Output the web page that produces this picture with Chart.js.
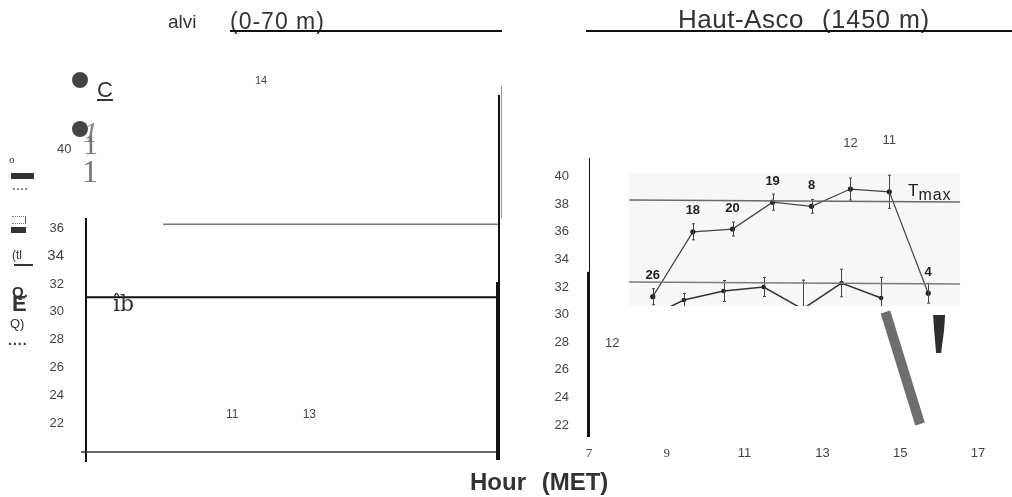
<!DOCTYPE html>
<html><head><meta charset="utf-8">
<script src="https://cdn.jsdelivr.net/npm/chart.js@4.4.0/dist/chart.umd.min.js"></script>
<style>
html,body{margin:0;padding:0;background:#fff;}
body{width:1012px;height:497px;position:relative;overflow:hidden;font-family:"Liberation Sans",Arial,sans-serif;color:#333;}
.t{position:absolute;white-space:nowrap;line-height:1;}
.ln{position:absolute;height:2px;background:#111;}
#c1{position:absolute;left:0;top:0;}
#c2{position:absolute;left:500px;top:0;}
</style></head><body>
<canvas id="c1" width="520" height="497"></canvas>
<canvas id="c2" width="512" height="497"></canvas>

<div class="t" style="left:168px;top:12px;font-size:19px;">alvi</div>
<div class="t" style="left:230px;top:10px;font-size:23px;letter-spacing:1px;">(0-70 m)</div>
<div class="ln" style="left:230px;top:30px;width:272px;"></div>
<div class="t" style="left:678px;top:6px;font-size:26px;letter-spacing:0.5px;">Haut-Asco</div>
<div class="t" style="left:822px;top:7px;font-size:25px;letter-spacing:1px;">(1450 m)</div>
<div class="ln" style="left:586px;top:30px;width:426px;"></div>

<div style="position:absolute;left:72px;top:72px;width:16px;height:16px;border-radius:50%;background:#444;"></div>
<div style="position:absolute;left:72px;top:121px;width:16px;height:16px;border-radius:50%;background:#444;"></div>
<div class="t" style="left:97px;top:79px;font-size:22px;text-decoration:underline;text-decoration-thickness:2px;text-underline-offset:2px;">C</div>
<div class="t" style="left:83px;top:115px;font:italic 30px 'Liberation Serif';color:#888;">1</div>
<div class="t" style="left:83px;top:127px;font:30px 'Liberation Serif';color:#777;">1</div>
<div class="t" style="left:82px;top:153px;font:32px 'Liberation Serif';color:#777;">1</div>
<div class="t" style="left:57px;top:142px;font-size:13px;color:#444;">40</div>
<div class="t" style="left:255px;top:75px;font-size:11px;color:#444;">14</div>

<div class="t" style="left:9px;top:153px;font:11px 'Liberation Serif';color:#333;">o</div>
<div style="position:absolute;left:11px;top:173px;width:23px;height:6px;background:#333;"></div>
<div style="position:absolute;left:13px;top:188px;width:14px;border-top:2px dotted #888;"></div>
<div style="position:absolute;left:12px;top:216px;width:13px;height:6px;border-top:1px dotted #777;border-bottom:1px dotted #777;border-right:1px solid #555;"></div>
<div style="position:absolute;left:11px;top:227px;width:15px;height:6px;background:#333;"></div>
<div class="t" style="left:12px;top:249px;font-size:12px;color:#333;">(tl</div>
<div style="position:absolute;left:14px;top:264px;width:19px;height:1.5px;background:#333;"></div>
<div class="t" style="left:12px;top:284px;font-size:15px;font-weight:bold;color:#333;">Q.</div>
<div class="t" style="left:12px;top:293px;font-size:22px;font-weight:bold;color:#333;">E</div>
<div class="t" style="left:10px;top:317px;font-size:13px;color:#333;">Q)</div>
<div class="t" style="left:8px;top:333px;font-size:14px;font-weight:bold;letter-spacing:1px;color:#333;">....</div>
<div class="t" style="left:113px;top:291px;font:22px 'DejaVu Serif';color:#333;">îb</div>

<div class="t" style="left:605px;top:336px;font-size:13px;color:#444;">12</div>
<div class="t" style="left:908px;top:182px;font-size:17px;color:#222;">T<span style="position:relative;top:4px;font-size:16px;letter-spacing:1px;">max</span></div>
<div class="t" style="left:470px;top:470px;font-size:24px;font-weight:bold;word-spacing:9px;color:#333;">Hour (MET)</div>

<script>
// ---- data ----
const hourTicksLeft = [11, 13];
const hourTicksRight = [7, 9, 11, 13, 15, 17];
const tempTicksLeft = [22, 24, 26, 28, 30, 32, 34, 36];
const tempTicksRight = [22, 24, 26, 28, 30, 32, 34, 36, 38, 40];

const tmaxHours  = [8.64, 9.67, 10.69, 11.72, 12.72, 13.72, 14.72, 15.72];
const tmaxValues = [31.3, 36.0, 36.2, 38.15, 37.85, 39.1, 38.9, 31.55];
const tmaxErrors = [0.58, 0.58, 0.5, 0.58, 0.5, 0.8, 1.2, 0.72];
const tmaxCounts = ["26", "18", "20", "19", "8", "12", "11", "4"];

const lowHours  = [8.6, 9.44, 10.46, 11.49, 12.49, 13.49, 14.51];
const lowValues = [29.9, 31.06, 31.71, 32.0, 30.4, 32.29, 31.2];
const lowErrors = [0.5, 0.47, 0.76, 0.69, 2.1, 1.0, 1.5];

const refHours = [8.03, 16.54];
const tmaxRefValues = [38.3, 38.16];
const lowRefValues = [32.36, 32.22];

const leftGrayHours = [9.2, 17.9];
const leftGrayValues = [36.3, 36.3];
const leftBlackHours = [7.2, 17.9];
const leftBlackValues = [31.05, 31.05];

const stripeHours = [14.62, 15.51];
const stripeValues = [30.19, 22.07];
const wedgeHours = [15.846, 16.154, 16.128, 16.051, 15.923, 15.872];
const wedgeValues = [29.97, 29.97, 28.88, 27.22, 27.22, 28.88];

// ---- helpers ----
const FONT = "'Liberation Sans', Arial, sans-serif";
const zip = (xs, ys) => xs.map((x, i) => ({x: x, y: ys[i]}));
const SCAN = {x0: 8.03, x1: 16.54, y0: 30.62, y1: 40.26};

const leftDecor = {
  id: 'leftDecor',
  afterDraw(chart) {
    const {ctx, chartArea: a, scales: {x}} = chart;
    ctx.save();
    ctx.lineCap = 'butt';
    // left axis
    ctx.strokeStyle = '#111'; ctx.lineWidth = 2;
    ctx.beginPath(); ctx.moveTo(a.left, a.top); ctx.lineTo(a.left, a.bottom + 10); ctx.stroke();
    // bottom axis
    ctx.strokeStyle = '#333'; ctx.lineWidth = 1.5;
    ctx.beginPath(); ctx.moveTo(a.left - 5, a.bottom); ctx.lineTo(a.right, a.bottom); ctx.stroke();
    // right frame
    ctx.strokeStyle = '#999'; ctx.lineWidth = 1;
    ctx.beginPath(); ctx.moveTo(a.right + 3.5, 86); ctx.lineTo(a.right + 3.5, a.top); ctx.stroke();
    ctx.strokeStyle = '#111'; ctx.lineWidth = 2;
    ctx.beginPath(); ctx.moveTo(a.right + 1, 95); ctx.lineTo(a.right + 1, a.bottom + 8); ctx.stroke();
    ctx.lineWidth = 4;
    ctx.beginPath(); ctx.moveTo(a.right, 282); ctx.lineTo(a.right, a.bottom + 8); ctx.stroke();
    // hour tick labels, printed inside the frame above the axis
    ctx.fillStyle = '#444';
    ctx.font = "12px " + FONT;
    ctx.textAlign = 'center'; ctx.textBaseline = 'middle';
    hourTicksLeft.forEach(h => ctx.fillText(String(h), x.getPixelForValue(h), a.bottom - 37));
    ctx.restore();
  }
};

const rightDecor = {
  id: 'rightDecor',
  beforeDatasetsDraw(chart) {
    const {ctx, chartArea: a, scales: {x, y}} = chart;
    ctx.save();
    const px0 = x.getPixelForValue(SCAN.x0), px1 = x.getPixelForValue(SCAN.x1);
    const py0 = y.getPixelForValue(SCAN.y1), py1 = y.getPixelForValue(SCAN.y0);
    ctx.fillStyle = '#f7f7f7';
    ctx.fillRect(px0, py0, px1 - px0, py1 - py0);
    // y axis line: thin upper part, thick lower part
    const split = y.getPixelForValue(33.1);
    ctx.strokeStyle = '#111';
    ctx.lineWidth = 1;
    ctx.beginPath(); ctx.moveTo(a.left + 0.5, a.top); ctx.lineTo(a.left + 0.5, split); ctx.stroke();
    ctx.lineWidth = 3;
    ctx.beginPath(); ctx.moveTo(a.left - 0.5, split); ctx.lineTo(a.left - 0.5, a.bottom); ctx.stroke();
    ctx.restore();
  },
  beforeDatasetDraw(chart, args) {
    const ds = chart.data.datasets[args.index];
    if (ds.clipToScan) {
      const {ctx, scales: {x, y}} = chart;
      const px0 = x.getPixelForValue(SCAN.x0), px1 = x.getPixelForValue(SCAN.x1);
      const py0 = y.getPixelForValue(SCAN.y1), py1 = y.getPixelForValue(SCAN.y0);
      ctx.save();
      ctx.beginPath(); ctx.rect(px0, py0, px1 - px0, py1 - py0); ctx.clip();
    }
  },
  afterDatasetDraw(chart, args) {
    const ds = chart.data.datasets[args.index];
    const {ctx, scales: {x, y}} = chart;
    if (ds.errors) {
      ctx.save();
      ctx.strokeStyle = '#444'; ctx.lineWidth = 1;
      ds.data.forEach((p, i) => {
        const e = ds.errors[i];
        const px = Math.round(x.getPixelForValue(p.x)) + 0.5;
        const t = y.getPixelForValue(p.y + e), b = y.getPixelForValue(p.y - e);
        ctx.beginPath();
        ctx.moveTo(px, t); ctx.lineTo(px, b);
        ctx.moveTo(px - 1.5, t); ctx.lineTo(px + 1.5, t);
        ctx.moveTo(px - 1.5, b); ctx.lineTo(px + 1.5, b);
        ctx.stroke();
      });
      ctx.restore();
    }
    if (ds.clipToScan) ctx.restore();
  },
  afterDatasetsDraw(chart) {
    const {ctx, scales: {x, y}} = chart;
    ctx.save();
    // wedge artefact
    ctx.fillStyle = '#2e2e2e';
    ctx.beginPath();
    wedgeHours.forEach((h, i) => {
      const px = x.getPixelForValue(h), py = y.getPixelForValue(wedgeValues[i]);
      if (i === 0) ctx.moveTo(px, py); else ctx.lineTo(px, py);
    });
    ctx.closePath(); ctx.fill();
    // point labels (sample sizes)
    const far = {5: -46, 6: -51};
    ctx.textAlign = 'center'; ctx.textBaseline = 'middle';
    tmaxHours.forEach((h, i) => {
      const px = x.getPixelForValue(h), py = y.getPixelForValue(tmaxValues[i]);
      if (far[i] !== undefined) {
        ctx.font = "13px " + FONT; ctx.fillStyle = '#444';
        ctx.fillText(tmaxCounts[i], px, py + far[i]);
      } else {
        ctx.font = "bold 13px " + FONT; ctx.fillStyle = '#222';
        ctx.fillText(tmaxCounts[i], px, py - 21);
      }
    });
    ctx.restore();
  }
};

Chart.defaults.font.family = FONT;

new Chart(document.getElementById('c1'), {
  type: 'line',
  data: {
    datasets: [
      {data: zip(leftGrayHours, leftGrayValues), borderColor: '#777', borderWidth: 1.5, pointRadius: 0},
      {data: zip(leftBlackHours, leftBlackValues), borderColor: '#111', borderWidth: 2, pointRadius: 0}
    ]
  },
  options: {
    responsive: false, animation: false, events: [],
    layout: {padding: {top: 218, right: 22, left: 0, bottom: 0}},
    plugins: {legend: {display: false}, tooltip: {enabled: false}},
    scales: {
      x: {
        type: 'linear', min: 7.2, max: 17.9,
        grid: {display: false}, border: {display: false},
        afterBuildTicks: s => { s.ticks = hourTicksLeft.map(v => ({value: v})); },
        afterFit: s => { s.height = 45; },
        ticks: {display: false}
      },
      y: {
        type: 'linear', min: 19.91, max: 36.75,
        grid: {display: false}, border: {display: false},
        afterBuildTicks: s => { s.ticks = tempTicksLeft.map(v => ({value: v})); },
        afterFit: s => { s.width = 86; },
        ticks: {
          padding: 14, color: '#444', autoSkip: false,
          font: c => ({family: FONT, size: (c.tick && c.tick.value === 34) ? 15 : 13})
        }
      }
    }
  },
  plugins: [leftDecor]
});

new Chart(document.getElementById('c2'), {
  type: 'line',
  data: {
    datasets: [
      {data: zip(refHours, tmaxRefValues), borderColor: '#6a6a6a', borderWidth: 1.5, pointRadius: 0},
      {data: zip(refHours, lowRefValues), borderColor: '#7a7a7a', borderWidth: 1.5, pointRadius: 0},
      {data: zip(tmaxHours, tmaxValues), errors: tmaxErrors, borderColor: '#444', borderWidth: 1.2,
       pointRadius: 2, pointBackgroundColor: '#222', pointBorderColor: '#222'},
      {data: zip(lowHours, lowValues), errors: lowErrors, clipToScan: true, borderColor: '#333', borderWidth: 1.5,
       pointRadius: 1.5, pointBackgroundColor: '#222', pointBorderColor: '#222'},
      {data: zip(stripeHours, stripeValues), borderColor: '#6e6e6e', borderWidth: 10, pointRadius: 0, borderCapStyle: 'butt'}
    ]
  },
  options: {
    responsive: false, animation: false, events: [],
    layout: {padding: {top: 158, right: 34, left: 0, bottom: 0}},
    plugins: {legend: {display: false}, tooltip: {enabled: false}},
    scales: {
      x: {
        type: 'linear', min: 7, max: 17,
        grid: {display: false}, border: {display: false},
        afterBuildTicks: s => { s.ticks = hourTicksRight.map(v => ({value: v})); },
        afterFit: s => { s.height = 60; },
        ticks: {
          padding: 1, color: '#444', maxRotation: 0, autoSkip: false,
          font: c => ({family: (c.tick && (c.tick.value === 7 || c.tick.value === 9)) ? "'Liberation Serif'" : FONT, size: 13})
        }
      },
      y: {
        type: 'linear', min: 21.13, max: 41.35,
        grid: {display: false}, border: {display: false},
        afterBuildTicks: s => { s.ticks = tempTicksRight.map(v => ({value: v})); },
        afterFit: s => { s.width = 89; },
        ticks: {padding: 12, color: '#444', autoSkip: false, font: {size: 13}}
      }
    }
  },
  plugins: [rightDecor]
});
</script>
</body></html>
